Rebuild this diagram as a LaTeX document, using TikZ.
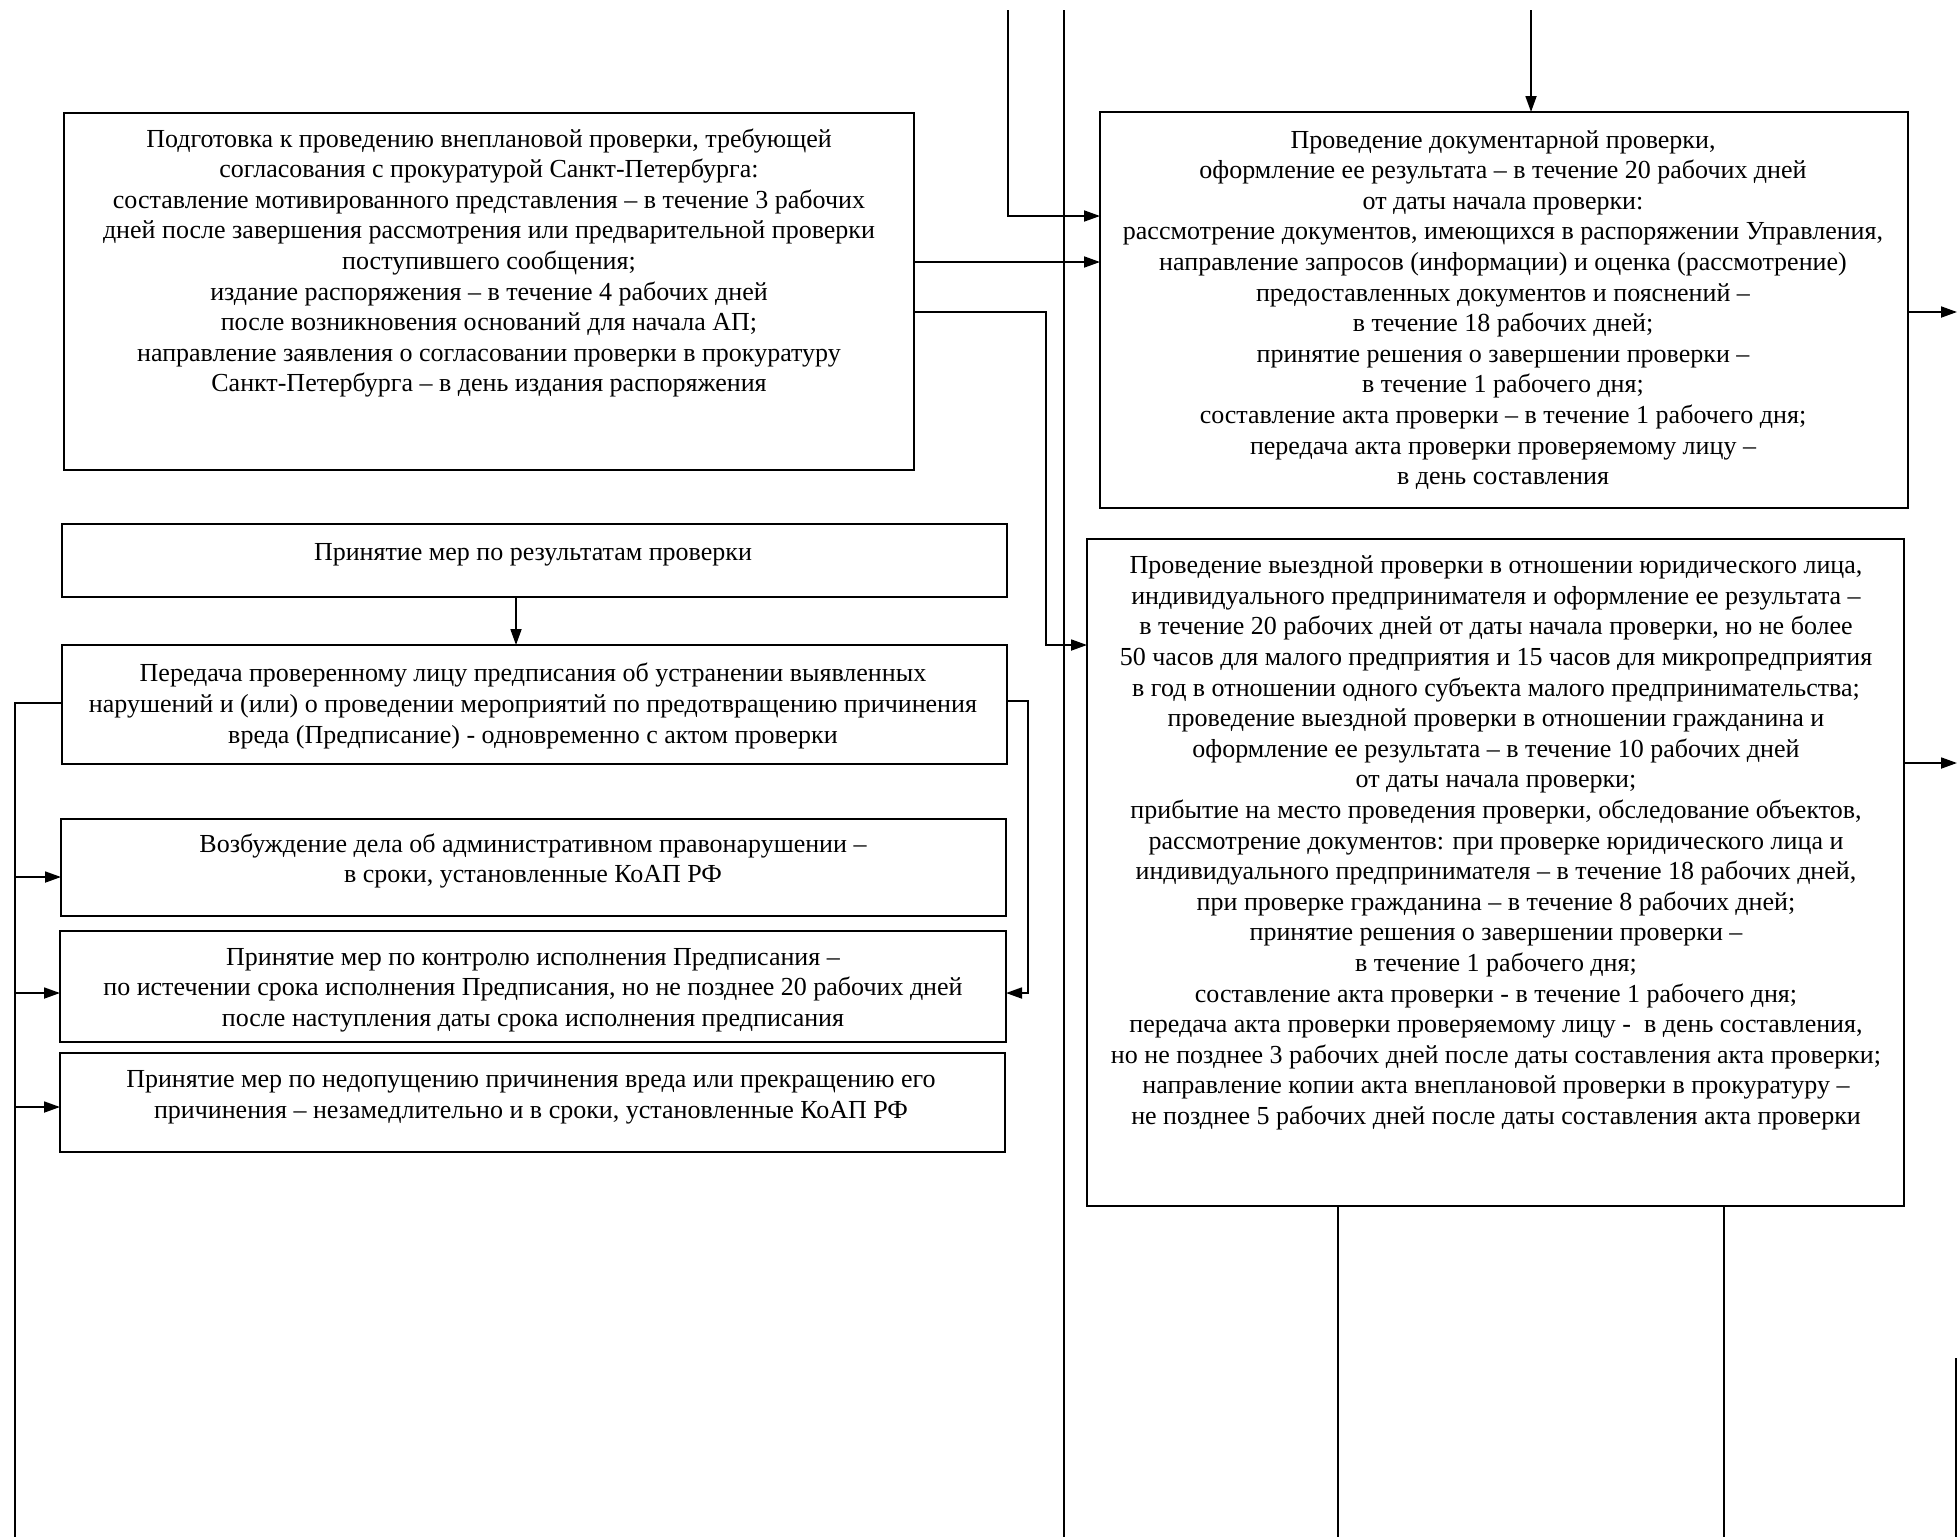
\documentclass[tikz,border=0pt]{standalone}
\usepackage{fontspec}
\setmainfont{Liberation Serif}
\usetikzlibrary{arrows.meta}
\begin{document}
\begin{tikzpicture}[x=0.5pt,y=-0.5pt,
  frame/.style={draw,line width=1pt,inner sep=0pt,outer sep=0pt},
  txt/.style={align=center,inner sep=0pt,font=\fontsize{13}{15.3}\selectfont},
  ln/.style={line width=0.9pt},
  arr/.style={line width=0.9pt,-{Triangle[length=8pt,width=5.5pt]}}]
\useasboundingbox (0,0) rectangle (1958,1537);
% boxes
\node[frame,minimum width=425pt,minimum height=178.5pt] (b1) at (489,291.5) {};
\node[frame,minimum width=472.5pt,minimum height=36.5pt] (b2) at (534.5,560.5) {};
\node[frame,minimum width=472.5pt,minimum height=59.5pt] (b3) at (534.5,704.5) {};
\node[frame,minimum width=472.5pt,minimum height=48.5pt] (b4) at (533.5,867.5) {};
\node[frame,minimum width=473pt,minimum height=55.5pt] (b5) at (533,986.5) {};
\node[frame,minimum width=472.5pt,minimum height=49.5pt] (b6) at (532.5,1102.5) {};
\node[frame,minimum width=404pt,minimum height=198pt] (b7) at (1504,310) {};
\node[frame,minimum width=408.5pt,minimum height=333.5pt] (b8) at (1495.5,872.5) {};
% texts
\node[txt] (t1) at (489,263) {Подготовка к проведению внеплановой проверки, требующей\\
согласования с прокуратурой Санкт-Петербурга:\\
составление мотивированного представления – в течение 3 рабочих\\
дней после завершения рассмотрения или предварительной проверки\\
поступившего сообщения;\\
издание распоряжения – в течение 4 рабочих дней\\
после возникновения оснований для начала АП;\\
направление заявления о согласовании проверки в прокуратуру\\
Санкт-Петербурга – в день издания распоряжения};
\node[txt] (t2) at (533,555) {Принятие мер по результатам проверки};
\node[txt] (t3) at (533,706) {Передача проверенному лицу предписания об устранении выявленных\\
нарушений и (или) о проведении мероприятий по предотвращению причинения\\
вреда (Предписание) - одновременно с актом проверки};
\node[txt] (t4) at (533,861) {Возбуждение дела об административном правонарушении –\\
в сроки, установленные КоАП РФ};
\node[txt] (t5) at (533,990) {Принятие мер по контролю исполнения Предписания –\\
по истечении срока исполнения Предписания, но не позднее 20 рабочих дней\\
после наступления даты срока исполнения предписания};
\node[txt] (t6) at (531,1097) {Принятие мер по недопущению причинения вреда или прекращению его\\
причинения – незамедлительно и в сроки, установленные КоАП РФ};
\node[txt] (t7) at (1503,310) {Проведение документарной проверки,\\
оформление ее результата – в течение 20 рабочих дней\\
от даты начала проверки:\\
рассмотрение документов, имеющихся в распоряжении Управления,\\
направление запросов (информации) и оценка (рассмотрение)\\
предоставленных документов и пояснений –\\
в течение 18 рабочих дней;\\
принятие решения о завершении проверки –\\
в течение 1 рабочего дня;\\
составление акта проверки – в течение 1 рабочего дня;\\
передача акта проверки проверяемому лицу –\\
в день составления};
\node[txt] (t8) at (1496,843) {Проведение выездной проверки в отношении юридического лица,\\
индивидуального предпринимателя и оформление ее результата –\\
в течение 20 рабочих дней от даты начала проверки, но не более\\
50 часов для малого предприятия и 15 часов для микропредприятия\\
в год в отношении одного субъекта малого предпринимательства;\\
проведение выездной проверки в отношении гражданина и\\
оформление ее результата – в течение 10 рабочих дней\\
от даты начала проверки;\\
прибытие на место проведения проверки, обследование объектов,\\
рассмотрение документов: при проверке юридического лица и\\
индивидуального предпринимателя – в течение 18 рабочих дней,\\
при проверке гражданина – в течение 8 рабочих дней;\\
принятие решения о завершении проверки –\\
в течение 1 рабочего дня;\\
составление акта проверки - в течение 1 рабочего дня;\\
передача акта проверки проверяемому лицу - \ в день составления,\\
но не позднее 3 рабочих дней после даты составления акта проверки;\\
направление копии акта внеплановой проверки в прокуратуру –\\
не позднее 5 рабочих дней после даты составления акта проверки};
% coordinates
\coordinate (a1) at (1008,10);
\coordinate (a1b) at (1008,216);
\coordinate (a2) at (1064,10);
\coordinate (a2b) at (1064,1537);
\coordinate (y262) at (0,262);
\coordinate (y312) at (0,312);
\coordinate (y763) at (0,763);
\coordinate (c1) at (1046,312);
\coordinate (c2) at (1046,645);
\coordinate (top3) at (1531,10);
\coordinate (r7) at (1957,312);
\coordinate (r8) at (1957,763);
\coordinate (d1) at (1338,1537);
\coordinate (d2) at (1724,1537);
\coordinate (e1) at (1956,1358);
\coordinate (e2) at (1956,1537);
\coordinate (L1) at (15,703);
\coordinate (L2) at (15,1537);
\coordinate (y877) at (0,877);
\coordinate (y993) at (0,993);
\coordinate (y1107) at (0,1107);
\coordinate (R1) at (1028,701);
\coordinate (R2) at (1028,993);
\coordinate (x516) at (516,0);
% connectors
\draw[arr] (a1) -- (a1b) -- (a1b -| b7.west);
\draw[ln] (a2) -- (a2b);
\draw[arr] (b1.east |- y262) -- (b7.west |- y262);
\draw[arr] (b1.east |- y312) -- (c1) -- (c2) -- (c2 -| b8.west);
\draw[arr] (top3) -- (top3 |- b7.north);
\draw[arr] (b7.east |- y312) -- (r7);
\draw[arr] (b8.east |- y763) -- (r8);
\draw[ln] (d1 |- b8.south) -- (d1);
\draw[ln] (d2 |- b8.south) -- (d2);
\draw[ln] (e1) -- (e2);
\draw[arr] (x516 |- b2.south) -- (x516 |- b3.north);
\draw[ln] (b3.west |- L1) -- (L1) -- (L2);
\draw[arr] (L1 |- y877) -- (b4.west |- y877);
\draw[arr] (L1 |- y993) -- (b5.west |- y993);
\draw[arr] (L1 |- y1107) -- (b6.west |- y1107);
\draw[arr] (b3.east |- R1) -- (R1) -- (R2) -- (R2 -| b5.east);
\end{tikzpicture}
\end{document}
